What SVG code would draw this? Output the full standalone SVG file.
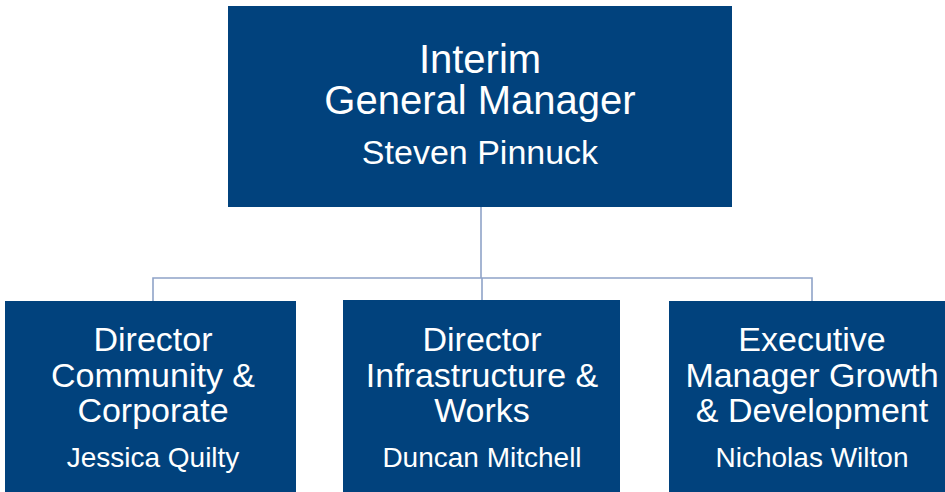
<svg xmlns="http://www.w3.org/2000/svg" width="945" height="492" viewBox="0 0 945 492">
<style>
.box{fill:#01427D}
.t{font-family:"Liberation Sans",Arial,sans-serif;fill:#fff;text-anchor:middle}
.h{font-size:40px}
.s{font-size:34px}
.b{font-size:34px}
.n{font-size:28px}
.c{stroke:#8FA3C8;stroke-width:1.6;fill:none}
</style>
<rect width="945" height="492" fill="#fff"/>
<g id="connectors">
<path class="c" d="M481 207V278M153 301V278H812V301M482 278V300"/>
</g>
<g id="gm">
<rect class="box" x="228" y="6" width="504" height="201"/>
<text class="t h" x="480" y="73">Interim</text>
<text class="t h" x="480" y="114">General Manager</text>
<text class="t s" x="480" y="164">Steven Pinnuck</text>
</g>
<g id="dcc">
<rect class="box" x="5" y="301" width="291" height="191"/>
<text class="t b" x="153" y="351">Director</text>
<text class="t b" x="153" y="387">Community &amp;</text>
<text class="t b" x="153" y="422">Corporate</text>
<text class="t n" x="153" y="467">Jessica Quilty</text>
</g>
<g id="diw">
<rect class="box" x="343" y="300" width="277" height="192"/>
<text class="t b" x="482" y="351">Director</text>
<text class="t b" x="482" y="387">Infrastructure &amp;</text>
<text class="t b" x="482" y="422">Works</text>
<text class="t n" x="482" y="467">Duncan Mitchell</text>
</g>
<g id="emgd">
<rect class="box" x="669" y="301" width="276" height="191"/>
<text class="t b" x="812" y="351">Executive</text>
<text class="t b" x="812" y="387">Manager Growth</text>
<text class="t b" x="812" y="422">&amp; Development</text>
<text class="t n" x="812" y="467">Nicholas Wilton</text>
</g>
</svg>
